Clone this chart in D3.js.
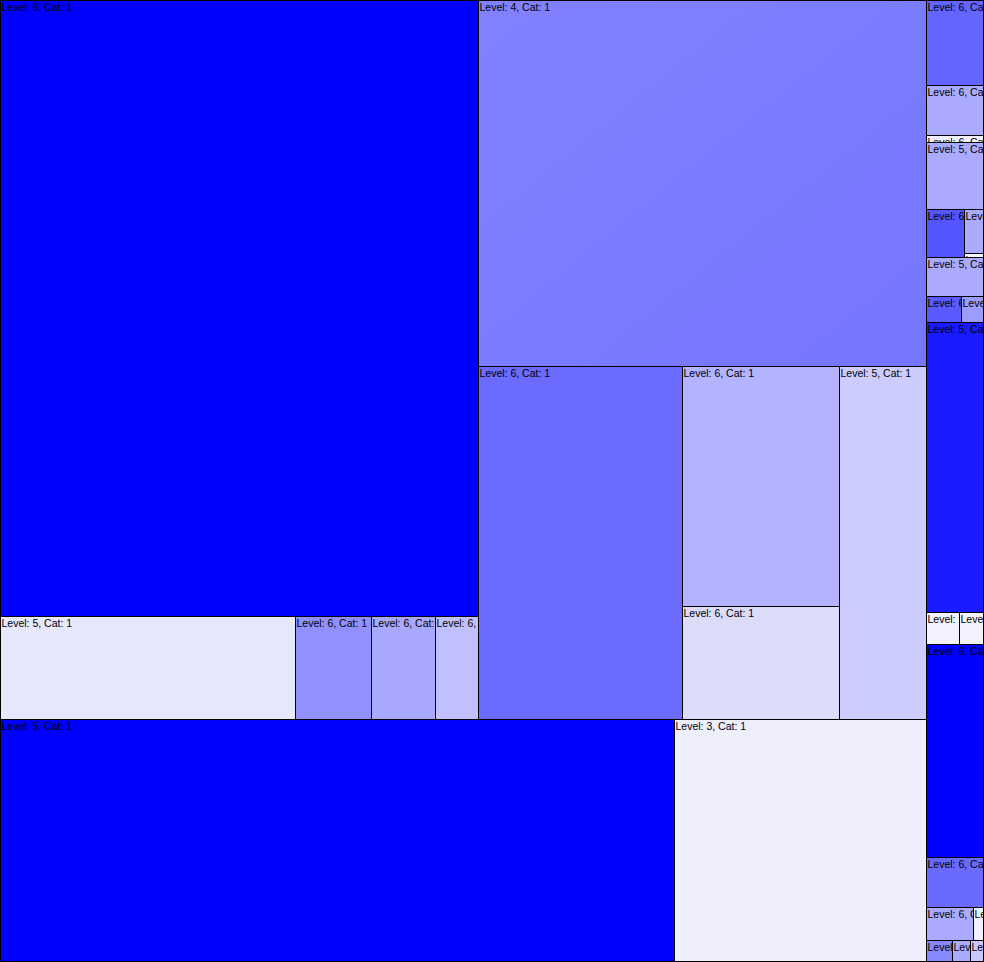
<!DOCTYPE html>
<html>
<head>
<meta charset="utf-8">
<script src="https://cdn.jsdelivr.net/npm/d3@7"></script>
<style>
  html, body { margin: 0; padding: 0; background: #ffffff; }
  svg { display: block; }
  text { font-family: "Liberation Sans", Arial, sans-serif; font-size: 10.5px; fill: #000; }
</style>
</head>
<body>
<svg id="chart" width="984" height="962"></svg>
<script>
// ---- Data ----
const leafLevels = [
  6, 5, 6, 6, 6,          // left-top block
  4, 6, 6, 6, 5,          // middle block
  5, 3,                   // bottom row
  6, 6, 6, 5, 6, 6, 6, 5, 6, 6, 5, 6, 6, 6, 6, 6, 6, 6, 6, 6, 6 // right column
];
const leafValues = [
  294448, 30385, 7828, 6592, 4429,
  163968, 72012, 37680, 17741, 30711,
  163108, 60984,
  4845, 2850, 399, 3819, 1824, 836, 76, 2223, 910, 572, 16530, 1056, 768,
  12141, 2850, 1551, 330, 546, 378, 273
];
const leafColors = [
  "#0000FF", "#E8E8FC", "#9090FF", "#A8A8FF", "#C0C0FF",
  "url(#g4)", "#6B6BFF", "#B3B3FF", "#DCDCF9", "#CCCCFF",
  "#0000FF", "#EEEEFC",
  "#6464FF", "#AAAAFF", "#F0F0FF", "#AAAAFF", "#5555FF", "#AAAAFF", "#F4F4FF", "#AAAAFF",
  "#5A5AFF", "#9C9CFF", "#1A1AFF", "#F2F2FF", "#F2F2FF", "#0000FF", "#6A6AFF",
  "#AAAAFF", "#F0F0FF", "#8888FF", "#AAAAFF", "#C8C8FF"
];
// Nesting of leaves (indices into the arrays above)
const groups = [
  [ [ [0, [1, 2, 3, 4]], [5, [6, [7, 8], 9]] ], [10, 11] ],
  [12, 13, 14, 15, [16, [17, 18]], 19, [20, 21], 22, [23, 24], 25, 26, [27, 28], [29, 30, 31]]
];

// ---- Build hierarchy ----
function build(node) {
  if (Array.isArray(node)) return { children: node.map(build) };
  return { leaf: node, level: leafLevels[node], value: leafValues[node], color: leafColors[node] };
}
const root = d3.hierarchy(build(groups)).sum(d => d.value || 0);

const W = 983, H = 961;
const tile = (node, x0, y0, x1, y1) =>
  (x1 - x0 >= y1 - y0 ? d3.treemapDice : d3.treemapSlice)(node, x0, y0, x1, y1);

d3.treemap().size([W, H]).tile(tile).round(true)(root);

const svg = d3.select("#chart");
const defs = svg.append("defs");
const g4 = defs.append("linearGradient").attr("id", "g4")
  .attr("x1", "0").attr("y1", "0").attr("x2", "1").attr("y2", "1");
g4.append("stop").attr("offset", "0").attr("stop-color", "#8282FF");
g4.append("stop").attr("offset", "1").attr("stop-color", "#7575FF");

const leaves = root.leaves();
leaves.forEach((d, i) => {
  defs.append("clipPath").attr("id", "clip" + i)
    .append("rect").attr("x", d.x0 + 1).attr("y", d.y0 + 1)
    .attr("width", Math.max(0, d.x1 - d.x0 - 1)).attr("height", Math.max(0, d.y1 - d.y0 - 1));
});

const cell = svg.selectAll("g.cell").data(leaves).join("g").attr("class", "cell");
cell.append("rect")
  .attr("x", d => d.x0 + 0.5).attr("y", d => d.y0 + 0.5)
  .attr("width", d => d.x1 - d.x0).attr("height", d => d.y1 - d.y0)
  .attr("fill", d => d.data.color)
  .attr("stroke", "#000").attr("stroke-width", 1);
cell.append("text")
  .attr("clip-path", (d, i) => `url(#clip${i})`)
  .attr("x", d => d.x0 + 1.5).attr("y", d => d.y0 + 10.5)
  .text(d => `Level: ${d.data.level}, Cat: 1`);
</script>
</body>
</html>
